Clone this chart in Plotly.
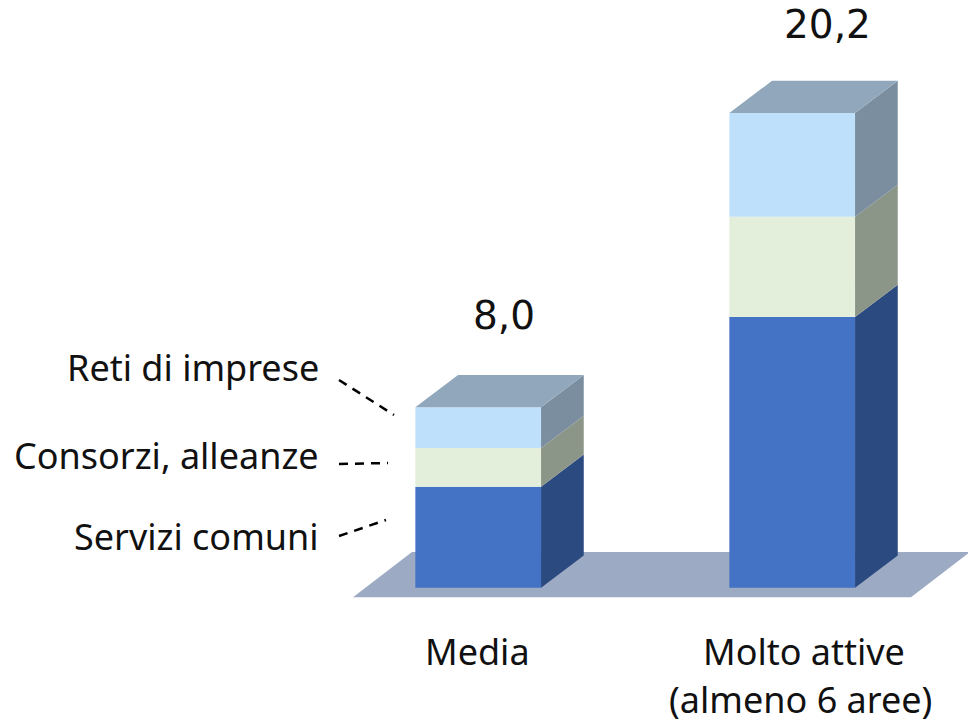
import plotly.graph_objects as go

W, H = 968, 725

categories = ["Media", "Molto attive"]
series_names = ["Servizi comuni", "Consorzi, alleanze", "Reti di imprese"]
servizi = [4.30, 11.52]
consorzi = [1.65, 4.26]
reti = [1.73, 4.42]
totals_text = ["8,0", "20,2"]
cat_labels = ["Media", "Molto attive", "(almeno 6 aree)"]

FRONT = ["#4472C4", "#E3EFDA", "#BFE0FA"]
SIDE = ["#2A4A80", "#8C9688", "#7A8E9F"]
TOP = "#91A8BC"
FLOOR = "#9DAAC3"

# axis scale: pixels per unit
PX_X, PX_Y = 314.0, 23.5
X0_PX, Y0_PX = 478.2, 587.7
bar_w = 125.7 / PX_X
dx = 42.7 / PX_X
dy = 32.2 / PX_Y
xs = [0, 1]


def xp(p):
    return (p - X0_PX) / PX_X


def yp(p):
    return (Y0_PX - p) / PX_Y


fig = go.Figure()
stack = [servizi, consorzi, reti]
base = [0.0, 0.0]
for name, vals, fc, sc in zip(series_names, stack, FRONT, SIDE):
    fig.add_trace(go.Bar(x=xs, y=vals, base=base, width=bar_w, name=name,
                         marker=dict(color=fc, line=dict(width=0)),
                         showlegend=False))
    for i, x in enumerate(xs):
        r = x + bar_w / 2
        b, t = base[i], base[i] + vals[i]
        fig.add_trace(go.Scatter(x=[r, r + dx, r + dx, r, r], y=[b, b + dy, t + dy, t, b],
                                 fill="toself", fillcolor=sc, mode="lines",
                                 line=dict(width=0), showlegend=False, hoverinfo="skip"))
    base = [base[i] + vals[i] for i in range(2)]

for i, x in enumerate(xs):
    l, r = x - bar_w / 2, x + bar_w / 2
    t = base[i]
    fig.add_trace(go.Scatter(x=[l, r, r + dx, l + dx, l], y=[t, t, t + dy, t + dy, t],
                             fill="toself", fillcolor=TOP, mode="lines",
                             line=dict(width=0), showlegend=False, hoverinfo="skip"))

# floor plane, behind the bars
floor_px = [(353, 597.3), (911, 597.3), (970, 552), (412, 552)]
path = "M " + " L ".join(f"{xp(a)},{yp(b)}" for a, b in floor_px) + " Z"
shapes = [dict(type="path", path=path, xref="x", yref="y", fillcolor=FLOOR,
               line=dict(width=0), layer="below")]

# dashed leader lines
for (x1, y1, x2, y2) in [(339, 380, 394, 415), (339, 464, 388, 463), (339, 536, 386, 520)]:
    shapes.append(dict(type="line", xref="paper", yref="paper",
                       x0=x1 / W, x1=x2 / W, y0=1 - y1 / H, y1=1 - y2 / H,
                       line=dict(color="#000000", width=2.5, dash="9px,7px")))

LABEL_FONT = dict(family="Noto Sans", size=36, color="#111111")
VALUE_FONT = dict(family="DejaVu Sans", size=39, color="#111111")


def note(text, x, y, font, anchor="center"):
    return dict(text=text, x=x / W, y=1 - y / H, xref="paper", yref="paper", showarrow=False,
                xanchor=anchor, yanchor="middle", font=font)


annotations = [
    note(totals_text[0], 504, 315, VALUE_FONT),
    note(totals_text[1], 827, 25, VALUE_FONT),
    note(cat_labels[0], 477, 651, LABEL_FONT),
    note(cat_labels[1], 804, 651, LABEL_FONT),
    note(cat_labels[2], 800, 699, LABEL_FONT),
    note(series_names[2], 321, 367, LABEL_FONT, "right"),
    note(series_names[1], 321, 455, LABEL_FONT, "right"),
    note(series_names[0], 321, 536, LABEL_FONT, "right"),
]

fig.update_layout(
    width=W, height=H, margin=dict(l=0, r=0, t=0, b=0),
    paper_bgcolor="white", plot_bgcolor="white", barmode="overlay",
    xaxis=dict(range=[xp(0), xp(W)], visible=False, fixedrange=True),
    yaxis=dict(range=[yp(H), yp(0)], visible=False, fixedrange=True),
    shapes=shapes, annotations=annotations, showlegend=False,
)
fig.write_html("out.html", config={"displayModeBar": False},
               post_script="document.documentElement.style.overflow='hidden';document.body.style.margin='0';")
